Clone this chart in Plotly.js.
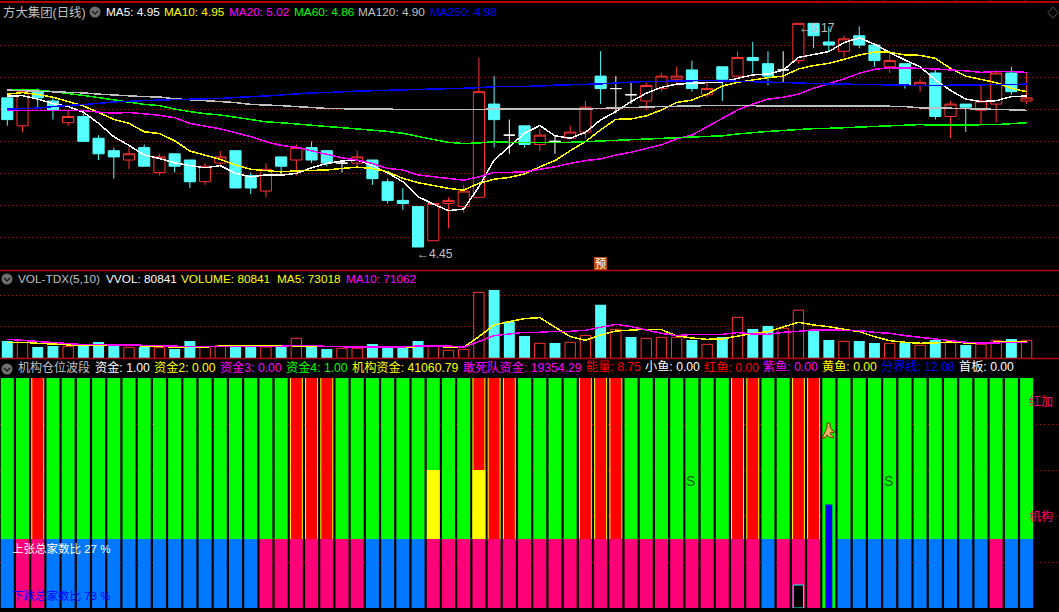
<!DOCTYPE html>
<html>
<head>
<meta charset="utf-8">
<script src="https://cdn.plot.ly/plotly-3.0.1.min.js"></script>
<style>html,body{margin:0;padding:0;background:#000;overflow:hidden}#chart{width:1059px;height:612px}
#chart .scatterlayer .js-line{shape-rendering:crispEdges}</style>
</head>
<body>
<div id="chart"></div>
<script>
// Daily bars, index 0..67. Doji days are drawn white.
const open_  = [4.93,4.84,4.95,4.92,4.85,4.87,4.80,4.76,4.73,4.77,4.69,4.75,4.73,4.66,4.72,4.76,4.68,4.63,4.74,4.73,4.77,4.76,4.72,4.72,4.73,4.66,4.60,4.58,4.47,4.59,4.58,4.61,4.91,4.81,4.84,4.78,4.79,4.80,4.82,5.00,4.96,4.94,4.92,4.96,4.99,5.02,4.94,5.03,5.00,5.06,5.04,5.02,5.05,5.17,5.11,5.08,5.13,5.10,5.03,5.04,4.97,5.01,4.87,4.91,4.89,4.91,5.01,4.92];
const high_  = [4.93,4.96,4.96,4.93,4.89,4.88,4.81,4.77,4.77,4.78,4.75,4.75,4.73,4.72,4.76,4.76,4.69,4.72,4.74,4.78,4.79,4.76,4.73,4.76,4.73,4.67,4.64,4.58,4.59,4.61,4.65,5.06,5.00,4.86,4.84,4.83,4.81,4.84,4.92,5.08,5.00,4.98,4.98,5.01,5.03,5.05,4.98,5.03,5.08,5.11,5.08,5.08,5.17,5.17,5.16,5.13,5.16,5.10,5.08,5.04,4.99,5.02,4.92,4.91,4.97,5.02,5.03,5.01];
const low_   = [4.84,4.82,4.90,4.86,4.84,4.79,4.73,4.67,4.70,4.71,4.68,4.69,4.64,4.65,4.71,4.64,4.62,4.61,4.68,4.68,4.72,4.71,4.69,4.71,4.65,4.59,4.57,4.45,4.47,4.51,4.56,4.61,4.77,4.75,4.77,4.76,4.75,4.80,4.80,4.91,4.88,4.91,4.89,4.95,4.97,4.95,4.93,4.92,5.00,5.01,4.97,4.98,5.04,5.09,5.08,5.06,5.09,5.03,5.01,4.96,4.95,4.86,4.80,4.82,4.84,4.85,4.94,4.91];
const close_ = [4.86,4.95,4.93,4.89,4.87,4.79,4.75,4.74,4.75,4.71,4.74,4.71,4.66,4.71,4.74,4.64,4.64,4.70,4.71,4.77,4.73,4.72,4.72,4.74,4.67,4.60,4.59,4.45,4.59,4.60,4.63,4.95,4.86,4.81,4.78,4.81,4.79,4.82,4.90,4.96,4.96,4.94,4.97,5.00,5.00,4.96,4.96,4.99,5.06,5.05,5.00,5.02,5.17,5.13,5.10,5.12,5.10,5.05,5.05,4.97,4.98,4.87,4.91,4.90,4.92,5.01,4.95,4.93];
const dojiDays = [22,33,36,40,41,51];

const ma5   = [4.936,4.937,4.926,4.912,4.902,4.884,4.848,4.805,4.777,4.746,4.735,4.721,4.712,4.705,4.712,4.687,4.676,4.682,4.681,4.687,4.705,4.719,4.727,4.730,4.712,4.689,4.660,4.612,4.588,4.567,4.572,4.644,4.730,4.773,4.816,4.841,4.808,4.800,4.819,4.859,4.886,4.918,4.945,4.964,4.974,4.977,4.980,4.981,4.993,5.004,5.007,5.019,5.060,5.070,5.079,5.108,5.123,5.103,5.076,5.052,5.030,4.988,4.954,4.926,4.918,4.921,4.934,4.936];
const ma10  = [4.942,4.947,4.941,4.932,4.918,4.904,4.883,4.861,4.848,4.821,4.815,4.792,4.759,4.746,4.732,4.714,4.700,4.696,4.692,4.695,4.696,4.698,4.703,4.707,4.703,4.692,4.671,4.657,4.648,4.639,4.633,4.655,4.668,4.674,4.685,4.708,4.728,4.760,4.789,4.827,4.861,4.862,4.872,4.891,4.915,4.923,4.942,4.968,4.980,4.988,4.995,5.000,5.023,5.034,5.041,5.054,5.068,5.077,5.077,5.068,5.067,5.057,5.025,5.000,4.990,4.979,4.961,4.950];
const ma20  = [4.889,4.890,4.890,4.890,4.890,4.889,4.884,4.881,4.883,4.878,4.874,4.866,4.848,4.839,4.830,4.818,4.805,4.789,4.777,4.771,4.759,4.748,4.737,4.730,4.719,4.703,4.698,4.682,4.676,4.671,4.665,4.676,4.690,4.690,4.692,4.700,4.708,4.719,4.728,4.734,4.746,4.755,4.766,4.779,4.798,4.810,4.837,4.864,4.891,4.910,4.926,4.932,4.942,4.961,4.975,4.991,5.009,5.022,5.027,5.027,5.025,5.023,5.021,5.017,5.012,5.015,5.015,5.012];
const ma60  = [4.955,4.955,4.955,4.950,4.945,4.938,4.931,4.924,4.918,4.909,4.905,4.894,4.886,4.879,4.875,4.867,4.861,4.853,4.850,4.846,4.843,4.839,4.835,4.832,4.827,4.822,4.816,4.805,4.796,4.787,4.783,4.785,4.789,4.787,4.786,4.786,4.786,4.787,4.789,4.792,4.794,4.796,4.796,4.799,4.800,4.802,4.804,4.808,4.814,4.819,4.822,4.825,4.829,4.831,4.832,4.834,4.836,4.837,4.839,4.842,4.844,4.842,4.842,4.842,4.842,4.844,4.847,4.850];
const ma120 = [4.955,4.953,4.952,4.951,4.948,4.946,4.942,4.939,4.937,4.934,4.933,4.927,4.924,4.921,4.918,4.915,4.909,4.908,4.905,4.902,4.898,4.896,4.895,4.895,4.894,4.894,4.892,4.892,4.891,4.891,4.891,4.892,4.895,4.895,4.895,4.895,4.893,4.893,4.894,4.896,4.898,4.900,4.900,4.902,4.903,4.905,4.905,4.905,4.905,4.905,4.905,4.905,4.905,4.905,4.905,4.905,4.905,4.905,4.903,4.902,4.898,4.898,4.896,4.895,4.894,4.893,4.891,4.890];
const ma250 = [4.894,4.895,4.897,4.902,4.905,4.909,4.912,4.917,4.918,4.921,4.923,4.925,4.926,4.927,4.928,4.932,4.934,4.936,4.940,4.942,4.946,4.947,4.950,4.952,4.953,4.954,4.955,4.956,4.958,4.959,4.961,4.963,4.966,4.966,4.966,4.968,4.971,4.972,4.974,4.975,4.978,4.981,4.983,4.983,4.985,4.985,4.986,4.985,4.984,4.983,4.981,4.980,4.978,4.976,4.975,4.974,4.972,4.972,4.970,4.970,4.970,4.970,4.971,4.972,4.972,4.974,4.974,4.974];

const volume = [77800,79300,50900,55400,53900,58400,73400,58400,49400,50900,47900,41900,77800,52400,56900,52400,50900,50900,50900,89800,55400,41900,44900,44900,64400,50900,49400,77800,53900,35900,40400,296000,307000,165000,100000,67400,68900,71900,103000,240000,130000,95800,89800,94300,94300,82300,62900,95800,184000,132000,145000,135000,216000,124000,82300,76300,77800,68900,67400,68900,58400,82300,70400,59900,62900,80841,86800,80841];
const volUp  = [0,1,0,0,1,0,0,0,1,0,1,0,0,1,1,0,0,1,0,1,0,0,1,1,0,0,0,0,1,1,1,1,0,0,0,1,0,1,1,0,1,0,1,1,1,0,1,0,1,0,0,1,1,0,0,1,0,0,1,0,1,0,1,0,1,1,0,1];
const volMa5 = [71900,71900,67400,64400,61400,56900,58400,58400,55400,55400,55400,49400,52400,50900,55400,58400,58400,58400,55400,55400,55400,52400,50900,49400,50900,50900,49400,52400,53900,50900,49400,97300,149700,164700,178100,182600,139200,97300,80800,104800,122800,125700,130200,128700,100300,91300,85300,86800,100300,112300,119800,139200,161700,149700,142200,130200,119800,97300,79300,71900,67400,68900,73400,68900,67400,73400,73400,73018];
const volMa10= [85300,80800,73400,70400,65900,61400,61400,61400,61400,58400,56900,53900,52400,52400,52400,52400,52400,52400,53900,58400,58400,52400,50900,50900,50900,50900,50900,55400,56900,55400,49400,74900,101800,109300,116800,116800,121300,121300,125700,139200,152700,142200,127200,112300,101800,107800,107800,107800,115300,109300,107800,116800,121300,127200,127200,127200,124300,116800,112300,101800,94300,86800,77800,71900,68900,70400,71900,71062];

// Lower indicator pane: category membership and levels
const redDays   = [2,19,20,21,31,32,33,38,39,40,48,49,52,53];
const yellowDays= [28,31];
const pinkDays  = [1,2,17,18,19,20,21,22,23,28,29,30,31,32,33,34,35,36,37,38,39,40,41,42,43,44,45,46,47,48,49,51,52,53,65];
const fullGreenDay = 54;
const levelSplit = 30, levelYellow = 60, levelTop = 100, levelBlue = 45, levelBlack = 10;

const W = 1059, H = 612;
const days = ma5.map((_, i) => i);
const px = x => x / W;
const py = y => 1 - y / H;
const pick = (arr, idx) => idx.map(i => arr[i]);

const RED = '#ff3333', CYAN = '#54ffff';
const candleDays = days.filter(i => !dojiDays.includes(i));
const traces = [];

function candle(idx, up, down, fill) {
  return {type: 'candlestick', x: idx, open: pick(open_, idx), high: pick(high_, idx), low: pick(low_, idx), close: pick(close_, idx),
    xaxis: 'x', yaxis: 'y', whiskerwidth: 0, hoverinfo: 'skip', showlegend: false,
    increasing: {line: {color: up, width: 1}, fillcolor: fill},
    decreasing: {line: {color: down, width: 1}, fillcolor: down}};
}
traces.push(candle(candleDays, RED, CYAN, '#000000'));
traces.push(candle(dojiDays, '#ffffff', '#ffffff', '#ffffff'));

[[ma5,'#ffffff'],[ma10,'#ffff00'],[ma20,'#ff00ff'],[ma60,'#00ff00'],[ma120,'#c0c0c0'],[ma250,'#0000ff']].forEach(([v,c]) => {
  traces.push({type:'scatter',mode:'lines',x:days,y:v,xaxis:'x',yaxis:'y',line:{color:c,width:1.5},hoverinfo:'skip',showlegend:false});
});

// Volume pane
const upIdx = days.filter(i => volUp[i]), downIdx = days.filter(i => !volUp[i]);
traces.push({type:'bar',x:downIdx,y:pick(volume,downIdx),xaxis:'x',yaxis:'y2',width:0.72,marker:{color:CYAN,line:{width:0}},hoverinfo:'skip',showlegend:false});
traces.push({type:'bar',x:upIdx,y:pick(volume,upIdx),xaxis:'x',yaxis:'y2',width:0.68,marker:{color:'#000000',line:{color:RED,width:1}},hoverinfo:'skip',showlegend:false});
traces.push({type:'scatter',mode:'lines',x:days,y:volMa5,xaxis:'x',yaxis:'y2',line:{color:'#ffff00',width:1.5},hoverinfo:'skip',showlegend:false});
traces.push({type:'scatter',mode:'lines',x:days,y:volMa10,xaxis:'x',yaxis:'y2',line:{color:'#ff00ff',width:1.5},hoverinfo:'skip',showlegend:false});

// Indicator pane: stacked blocks
const BW = 0.855;
function blocks(idx, base, top, color, width) {
  const w = width || BW;
  return {type:'bar',x:idx,y:idx.map(() => top - base),base:idx.map(() => base),xaxis:'x',yaxis:'y3',width:w,
    marker:{color:color,line:{width:0}},hoverinfo:'skip',showlegend:false};
}
const blueDays = days.filter(i => !pinkDays.includes(i) && i !== fullGreenDay);
const greenDays = days.filter(i => !redDays.includes(i) && i !== fullGreenDay);
const layerBars = [];
layerBars.push(blocks(greenDays, levelSplit, levelTop, '#00ff00'));
layerBars.push(blocks([fullGreenDay], 0, levelTop, '#00ff00'));
layerBars.push(blocks(redDays, levelSplit, levelTop, '#ffff00'));
layerBars.push(blocks(redDays, levelSplit, levelTop, '#ff0000', 0.72));
layerBars.push(blocks(yellowDays, levelSplit, levelYellow, '#ffff00'));
layerBars.push(blocks(blueDays, 0, levelSplit, '#0078ff'));
layerBars.push(blocks(pinkDays, 0, levelSplit, '#ff0078'));
layerBars.push(blocks([fullGreenDay], 0, levelBlue, '#0000ff', 0.46));
layerBars.push({type:'bar',x:[52],y:[levelBlack],xaxis:'x',yaxis:'y3',width:0.68,marker:{color:'#000000',line:{color:'#00ffff',width:1}},hoverinfo:'skip',showlegend:false});
layerBars.forEach(t => traces.push(t));
traces.push({type:'scatter',mode:'lines',x:[0,67],y:[0,0],xaxis:'x',yaxis:'y3',line:{color:'#c0c0c0',width:1},hoverinfo:'skip',showlegend:false,cliponaxis:false});

// Text
const CN = '"Liberation Sans","Noto Sans CJK SC",sans-serif';
function label(x, y, text, color, size, extra) {
  return Object.assign({xref:'paper',yref:'paper',x:px(x),y:py(y),text:text,showarrow:false,xanchor:'left',yanchor:'middle',
    font:{family:CN,size:size||11.8,color:color},borderpad:0,borderwidth:0,align:'left'}, extra||{});
}
const GREY='#c0c0c0';
const annotations = [
  label(3,12,'方大集团(日线)',GREY,12.4),
  label(105.5,12,'MA5: 4.95','#ffffff'),
  label(164,12,'MA10: 4.95','#ffff00'),
  label(228.5,12,'MA20: 5.02','#ff00ff'),
  label(293.5,12,'MA60: 4.86','#00ff00'),
  label(358,12,'MA120: 4.90',GREY),
  label(430,12,'MA250: 4.98','#0000ff'),
  label(17.5,279,'VOL-TDX(5,10)',GREY),
  label(105.5,279,'VVOL: 80841','#ffffff'),
  label(181,279,'VOLUME: 80841','#ffff00'),
  label(277,279,'MA5: 73018','#ffff00'),
  label(346,279,'MA10: 71062','#ff00ff'),
  label(17.5,367,'机构仓位波段',GREY,12),
  label(95,367,'资金: 1.00','#ffffff',12.2),
  label(154,367,'资金2: 0.00','#ffff00',12.2),
  label(220,367,'资金3: 0.00','#ff00ff',12.2),
  label(286,367,'资金4: 1.00','#00ff00',12.2),
  label(352,367,'机构资金: 41060.79','#ffff00',12.2),
  label(463,367,'敢死队资金: 19354.29','#ff00ff',12.2),
  label(586,367,'能量: 8.75','#ff0000',12.2),
  label(645,367,'小鱼: 0.00','#ffffff',12.2),
  label(704,367,'红鱼: 0.00','#ff0000',12.2),
  label(763,367,'紫鱼: 0.00','#ff00ff',12.2),
  label(822,367,'黄鱼: 0.00','#ffff00',12.2),
  label(881,367,'分界线: 12.08','#0000ff',12.2),
  label(959,367,'首板: 0.00','#ffffff',12.2),
  label(417,254,'←4.45',GREY,12),
  label(799,28,'←5.17',GREY,12),
  label(594,263,'预','#ffffff',11,{bgcolor:'#b84a00',width:13,height:13,align:'center'}),
  label(12,548,'上张总家数比 27 %','#ffffff',11.5),
  label(12,595,'下跌总家数比 73 %','#0000ff',11.5),
  label(1029,401,'红加','#ff0078',12),
  label(1029,516,'机构','#ff0078',12),
  label(686,481,'S','#006000',14),
  label(884,481,'S','#006000',14)
];

// Frame, separators and small icons
const FRAME = '#b00000';
function hline(y, color, w) { return {type:'line',xref:'paper',yref:'paper',x0:0,x1:1,y0:py(y),y1:py(y),line:{color:color,width:w},layer:'above'}; }
const shapes = [hline(2,FRAME,2), hline(270.5,FRAME,1.5), hline(358.5,FRAME,1.5)];
[23,816,850,885,920,955,990,1025].forEach(x => shapes.push({type:'line',xref:'paper',yref:'paper',x0:px(x),x1:px(x),y0:py(0),y1:py(2),line:{color:FRAME,width:1}}));
[[95,12],[7,279],[7,369]].forEach(([x,y]) => {
  shapes.push({type:'circle',xref:'paper',yref:'paper',x0:px(x-5.5),x1:px(x+5.5),y0:py(y-5.5),y1:py(y+5.5),fillcolor:'#6e6e6e',line:{width:0}});
  shapes.push({type:'path',xref:'paper',yref:'paper',path:`M${px(x-3)},${py(y-1)} L${px(x)},${py(y+2)} L${px(x+3)},${py(y-1)}`,line:{color:'#111',width:1.2}});
});
shapes.push({type:'path',xref:'paper',yref:'paper',path:`M${px(1053)},${py(7)} L${px(1058)},${py(12.5)} L${px(1053)},${py(18)} L${px(1048)},${py(12.5)} Z`,line:{color:'#555',width:1}});
// Running figure marker
const runner = [[827,423],[830,423],[830,427],[832,430],[834,431],[834,433],[831,432],[830,434],[834,437],[833,438],[829,437],[827,435],[825,438],[822,438],[824,434],[826,430],[827,427]];
shapes.push({type:'path',xref:'paper',yref:'paper',path:'M'+runner.map(([x,y])=>px(x)+','+py(y)).join(' L')+' Z',fillcolor:'#f0b060',line:{color:'#6b3000',width:1},layer:'above'});

const gridColor = '#a01010';
const priceGrid = [5.098,4.996,4.893,4.790,4.687,4.584,4.481];
const volGrid = [283000,142000];
const indGrid = [20,40,60,80];
function yax(top, bottom, range, ticks) {
  return {domain:[1-bottom/H, 1-top/H],range:range,tickvals:ticks,showticklabels:false,ticks:'',showgrid:true,gridcolor:gridColor,griddash:'1px,3px',gridwidth:1,zeroline:false,showline:false,fixedrange:true,layer:'below traces'};
}
const layout = {
  width:W,height:H,margin:{l:0,r:0,t:0,b:0,pad:0},paper_bgcolor:'#000',plot_bgcolor:'#000',showlegend:false,hovermode:false,
  barmode:'overlay',boxgap:0.27,boxgroupgap:0,boxmode:'overlay',font:{family:CN},dragmode:false,
  xaxis:{range:[-0.48,69.13],visible:false,showgrid:false,zeroline:false,fixedrange:true,rangeslider:{visible:false},anchor:'y3',domain:[0,1]},
  yaxis:yax(0,270,[4.376,5.245],priceGrid),
  yaxis2:yax(270,358.3,[0,396600],volGrid),
  yaxis3:yax(378,608,[0,100],indGrid),
  annotations:annotations,shapes:shapes
};
Plotly.newPlot('chart',traces,layout,{displayModeBar:false,staticPlot:true});
</script>
</body>
</html>
